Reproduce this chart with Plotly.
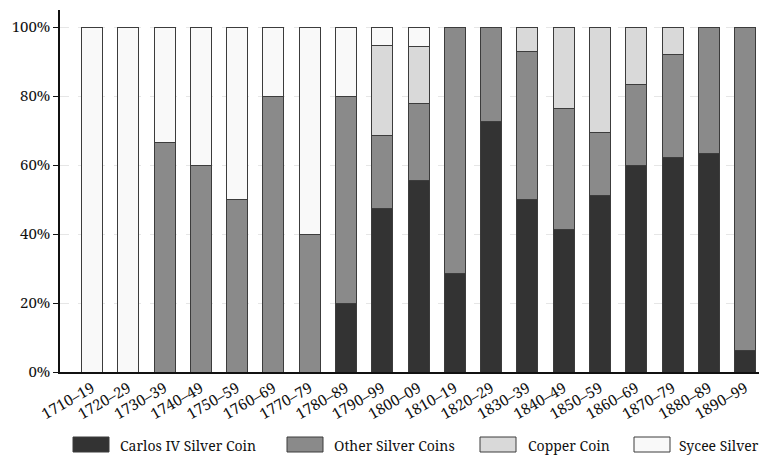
import plotly.graph_objects as go

periods = ["1710–19", "1720–29", "1730–39", "1740–49", "1750–59", "1760–69", "1770–79",
           "1780–89", "1790–99", "1800–09", "1810–19", "1820–29", "1830–39", "1840–49",
           "1850–59", "1860–69", "1870–79", "1880–89", "1890–99"]
carlos = [0, 0, 0, 0, 0, 0, 0, 20, 47.4, 55.6, 28.6, 72.7, 50, 41.2, 51.2, 60, 62.2, 63.3, 6.3]
other = [0, 0, 66.7, 60, 50, 80, 40, 60, 21.1, 22.2, 71.4, 27.3, 42.9, 35.3, 18.4, 23.4, 29.8, 36.7, 93.7]
copper = [0, 0, 0, 0, 0, 0, 0, 0, 26.3, 16.7, 0, 0, 7.1, 23.5, 30.4, 16.6, 8.0, 0, 0]
sycee = [100, 100, 33.3, 40, 50, 20, 60, 20, 5.2, 5.5, 0, 0, 0, 0, 0, 0, 0, 0, 0]

series_names = ["Carlos IV Silver Coin", "Other Silver Coins", "Copper Coin", "Sycee Silver"]
series_vals = [carlos, other, copper, sycee]
series_colors = ["#333333", "#8a8a8a", "#d9d9d9", "#f9f9f9"]

font = "Noto Serif"
edge = "#3c3c3c"
OFF = 8  # page body margin
W, H = 767 - OFF, 456 - OFF

fig = go.Figure()
for name, vals, col in zip(series_names, series_vals, series_colors):
    fig.add_trace(go.Bar(x=periods, y=vals, name=name,
                         marker=dict(color=col, line=dict(color=edge, width=1)),
                         width=0.58, showlegend=False))

L, R, T, B = 60, 767, 10, 372
def px(x):
    return (x - L) / (R - L)
def py(y):
    return (B - y) / (B - T)

sw_x = [73, 287, 480, 634]
tx_x = [118, 332, 526, 677]
for name, col, sx, tx in zip(series_names, series_colors, sw_x, tx_x):
    fig.add_shape(type="rect", xref="paper", yref="paper",
                  x0=px(sx), x1=px(sx + 36), y0=py(452), y1=py(437),
                  fillcolor=col, line=dict(color=edge, width=1))
    fig.add_annotation(xref="paper", yref="paper", x=px(tx), y=py(445),
                       text=name, showarrow=False, xanchor="left", yanchor="middle",
                       font=dict(family=font, size=14, color="#111"))

fig.update_layout(
    barmode="stack",
    width=W, height=H,
    margin=dict(l=L - OFF, r=0, t=T - OFF, b=456 - B, autoexpand=False),
    plot_bgcolor="white", paper_bgcolor="white",
    font=dict(family=font, size=14, color="#111"),
    showlegend=False,
    xaxis=dict(range=[-0.88, 18.6], showline=True, linecolor="#111", linewidth=1.5,
               tickangle=-30, ticks="", showgrid=False, automargin=False,
               tickfont=dict(family=font, size=15)),
    yaxis=dict(range=[0, 105], showline=True, linecolor="#111", linewidth=1.5,
               tickvals=[0, 20, 40, 60, 80, 100],
               ticktext=["0%", "20%", "40%", "60%", "80%", "100%"],
               ticks="outside", ticklen=5, tickcolor="#111", automargin=False,
               showgrid=True, gridcolor="#e6e6e6", griddash="dash", zeroline=False,
               tickfont=dict(family=font, size=15)),
)
fig.write_html("out.html")
